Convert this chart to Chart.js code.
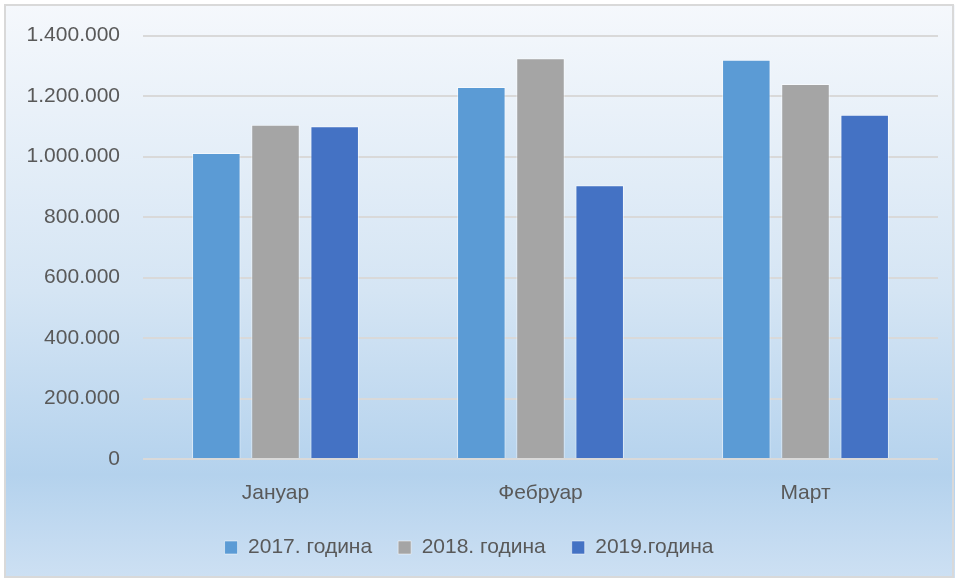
<!DOCTYPE html>
<html>
<head>
<meta charset="utf-8">
<script src="https://cdn.jsdelivr.net/npm/chart.js@4"></script>
<style>
  html, body { margin: 0; padding: 0; background: #ffffff; }
  #wrap { position: absolute; left: 0; top: 0; width: 955px; height: 580px; }
</style>
</head>
<body>
<div id="wrap"><canvas id="chart" width="955" height="580"></canvas></div>
<script>
// data
const months = ['Јануар', 'Фебруар', 'Март'];
const year2017 = [1012000, 1230000, 1320000];
const year2018 = [1105000, 1325000, 1240000];
const year2019 = [1100000, 905000, 1138000];
const seriesNames = ['2017. година', '2018. година', '2019.година'];
const seriesColors = ['#5B9BD5', '#A5A5A5', '#4472C4'];

const textColor = '#595959';
const fontFamily = '"Liberation Sans", Arial, sans-serif';

// background gradient + frame, drawn before everything else
const backdrop = {
    id: 'backdrop',
    beforeDraw(chart) {
        const c = chart.ctx;
        const g = c.createLinearGradient(0, 5, 0, 578);
        g.addColorStop(0, '#f5f8fc');
        g.addColorStop(0.5, '#d5e5f4');
        g.addColorStop(0.82, '#b4d2ed');
        g.addColorStop(1, '#cde0f3');
        c.save();
        c.fillStyle = g;
        c.fillRect(5, 5, 950, 573);
        c.strokeStyle = '#d9d9d9';
        c.lineWidth = 2;
        c.strokeRect(5, 5, 948, 572);
        c.restore();
    }
};

function fmt(v) {
    return String(v).replace(/\B(?=(\d{3})+(?!\d))/g, '.');
}

const ctx = document.getElementById('chart').getContext('2d');
new Chart(ctx, {
    type: 'bar',
    data: {
        labels: months,
        datasets: [year2017, year2018, year2019].map((vals, i) => ({
            label: seriesNames[i],
            data: vals,
            backgroundColor: seriesColors[i],
            borderColor: 'rgba(255,255,255,0.5)',
            borderWidth: 1,
            categoryPercentage: 0.67,
            barPercentage: 0.82
        }))
    },
    options: {
        responsive: false,
        animation: false,
        layout: { padding: { top: 35, right: 17, left: 0, bottom: 12 } },
        plugins: {
            legend: {
                position: 'bottom',
                labels: {
                    boxWidth: 13,
                    boxHeight: 13,
                    padding: 26,
                    color: textColor,
                    font: { family: fontFamily, size: 21 }
                }
            },
            tooltip: { enabled: false }
        },
        scales: {
            x: {
                grid: { display: false, drawTicks: false },
                border: { display: false },
                ticks: { color: textColor, padding: 22, font: { family: fontFamily, size: 21 } },
                afterFit(scale) { scale.height = 52; }
            },
            y: {
                min: 0,
                max: 1400000,
                grid: { color: '#d9d9d9', lineWidth: 2, drawTicks: false },
                border: { display: false },
                ticks: {
                    stepSize: 200000,
                    color: textColor,
                    padding: 23,
                    font: { family: fontFamily, size: 21 },
                    callback: v => fmt(v)
                },
                afterFit(scale) { scale.width = 143; }
            }
        }
    },
    plugins: [backdrop]
});
</script>
</body>
</html>
